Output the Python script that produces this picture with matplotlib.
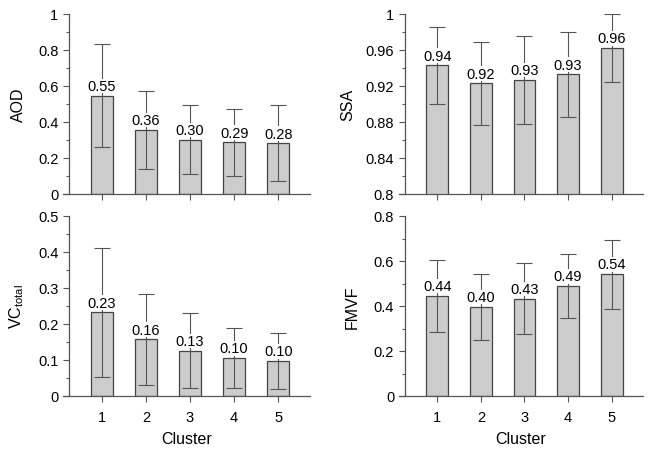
import numpy as np
import matplotlib
matplotlib.use("Agg")
import matplotlib.pyplot as plt
from matplotlib.ticker import MultipleLocator, FuncFormatter

plt.rcParams['font.family'] = ['Liberation Sans', 'DejaVu Sans']
plt.rcParams['mathtext.default'] = 'regular'

clusters = [1, 2, 3, 4, 5]

aod_mean = [0.545, 0.356, 0.301, 0.287, 0.281]
aod_err = [0.286, 0.219, 0.192, 0.187, 0.211]
aod_labels = ["0.55", "0.36", "0.30", "0.29", "0.28"]

ssa_mean = [0.943, 0.923, 0.927, 0.933, 0.962]
ssa_err = [0.043, 0.046, 0.049, 0.047, 0.038]
ssa_labels = ["0.94", "0.92", "0.93", "0.93", "0.96"]

vc_mean = [0.232, 0.157, 0.126, 0.105, 0.097]
vc_err = [0.180, 0.126, 0.105, 0.084, 0.078]
vc_labels = ["0.23", "0.16", "0.13", "0.10", "0.10"]

fmvf_mean = [0.446, 0.397, 0.433, 0.488, 0.541]
fmvf_err = [0.160, 0.146, 0.157, 0.142, 0.153]
fmvf_labels = ["0.44", "0.40", "0.43", "0.49", "0.54"]

W, H = 653, 452
fig = plt.figure(figsize=(W / 100, H / 100), dpi=100)

# tick labels like 1, 0.8, 0.84 (no trailing zeros)
short = FuncFormatter(lambda v, p: f"{v:.2f}".rstrip('0').rstrip('.'))


def make_panel(rect, mean, err, labels, ylabel, ylim, major, minor,
               show_x, label_x):
    ax = fig.add_axes(rect)
    ax.bar(clusters, mean, width=0.5, color='#cccccc', edgecolor='#444444',
           linewidth=0.9, zorder=2)
    ax.errorbar(clusters, mean, yerr=err, fmt='none', ecolor='#555555',
                elinewidth=0.8, capsize=6, capthick=0.8, zorder=3)
    for x, m, lab in zip(clusters, mean, labels):
        ax.annotate(lab, (x, m), xytext=(0, 2), textcoords='offset points',
                    ha='center', va='bottom', fontsize=10.5, zorder=4,
                    bbox=dict(facecolor='white', edgecolor='none', pad=0.2))
    ax.set_xlim(0.12, 5.72)
    ax.set_ylim(*ylim)
    ax.spines['top'].set_visible(False)
    ax.spines['right'].set_visible(False)
    ax.spines['left'].set_position(('data', 0.25))
    for s in ('left', 'bottom'):
        ax.spines[s].set_color('#555555')
        ax.spines[s].set_linewidth(0.9)
    ax.yaxis.set_major_locator(MultipleLocator(major))
    ax.yaxis.set_minor_locator(MultipleLocator(minor))
    ax.yaxis.set_major_formatter(short)
    ax.set_xticks(clusters)
    ax.tick_params(axis='both', which='both', direction='out', colors='#555555',
                   labelcolor='black', labelsize=10.5, width=0.8)
    ax.tick_params(axis='y', which='major', length=4)
    ax.tick_params(axis='y', which='minor', length=2.5)
    ax.tick_params(axis='x', which='major', length=4, pad=6)
    if show_x:
        ax.set_xlabel('Cluster', fontsize=11.5, labelpad=5)
    else:
        ax.set_xticklabels([])
    ax.set_ylabel(ylabel, fontsize=11.5)
    ax.yaxis.set_label_coords(label_x, 0.5)
    return ax


lx, rx = 63 / W, 399 / W
lw_, rw_ = 247 / W, 244 / W
top_b, bot_b = (H - 195) / H, (H - 397) / H
ph = 180 / H

make_panel([lx, top_b, lw_, ph], aod_mean, aod_err, aod_labels, 'AOD',
           (0, 1), 0.2, 0.1, False, -0.15)
make_panel([rx, top_b, rw_, ph], ssa_mean, ssa_err, ssa_labels, 'SSA',
           (0.8, 1), 0.04, 0.02, False, -0.18)
make_panel([lx, bot_b, lw_, ph], vc_mean, vc_err, vc_labels,
           r'VC$_{total}$', (0, 0.5), 0.1, 0.05, True, -0.15)
make_panel([rx, bot_b, rw_, ph], fmvf_mean, fmvf_err, fmvf_labels, 'FMVF',
           (0, 0.8), 0.2, 0.1, True, -0.16)

fig.savefig('out.png', dpi=100)
